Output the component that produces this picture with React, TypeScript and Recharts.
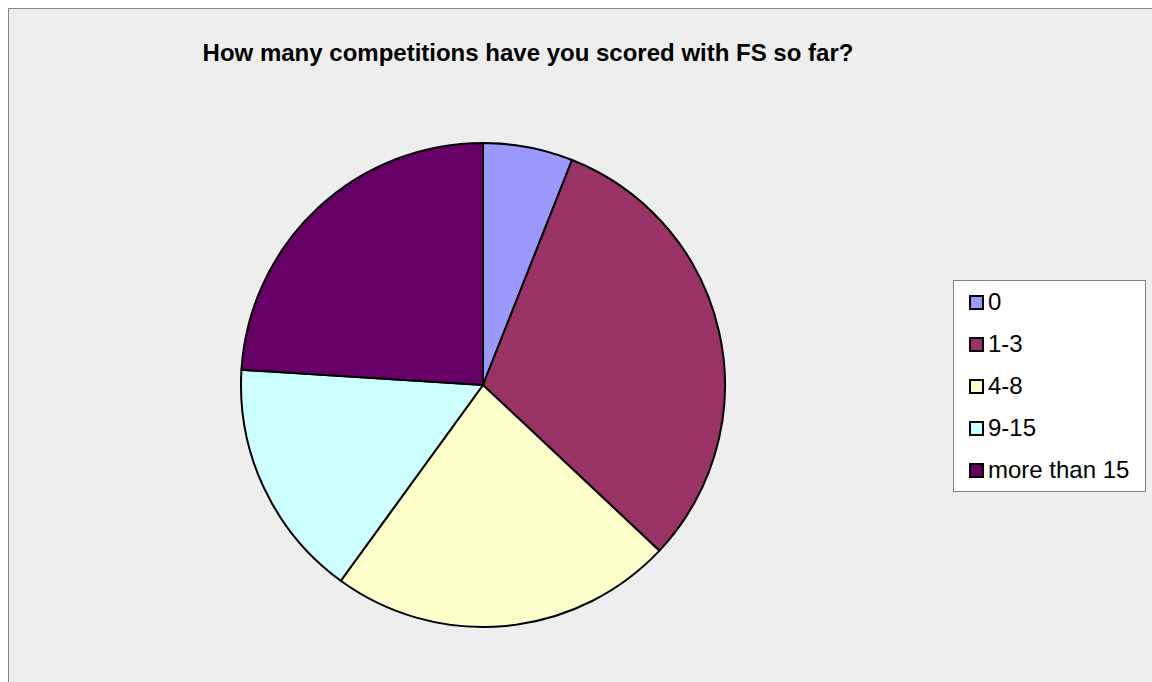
import React from 'react';
import { PieChart, Pie, Cell, Legend } from 'recharts';

const categories = ['0', '1-3', '4-8', '9-15', 'more than 15'];
const shares = [6, 31, 23, 16, 24];
const colors = ['#9999FF', '#993366', '#FFFFCC', '#CCFFFF', '#660066'];

const data = categories.map((name, i) => ({ name, value: shares[i] }));

const LegendBox = () => (
  <div
    style={{
      width: 193,
      height: 212,
      background: '#fff',
      border: '1px solid #808080',
      boxSizing: 'border-box',
      paddingTop: 0,
      fontFamily: 'Arial, "Liberation Sans", sans-serif',
      fontSize: 24,
      color: '#000',
    }}
  >
    {categories.map((name, i) => (
      <div key={name} style={{ display: 'flex', alignItems: 'center', height: 42, paddingLeft: 15 }}>
        <span
          style={{
            display: 'inline-block',
            width: 11,
            height: 11,
            background: colors[i],
            border: '2px solid #000',
            marginRight: 4,
          }}
        />
        <span style={{ lineHeight: '24px' }}>{name}</span>
      </div>
    ))}
  </div>
);

export default function App() {
  return (
    <div
      style={{
        position: 'fixed',
        left: 8,
        top: 8,
        width: 1143,
        height: 673,
        background: '#EEEEEE',
        borderLeft: '1px solid #888',
        borderTop: '1px solid #888',
        overflow: 'hidden',
      }}
    >
      <div
        style={{
          position: 'absolute',
          left: 0,
          width: 1038,
          top: 32,
          textAlign: 'center',
          fontFamily: 'Arial, "Liberation Sans", sans-serif',
          fontWeight: 'bold',
          fontSize: 24,
          lineHeight: '24px',
          color: '#000',
        }}
      >
        How many competitions have you scored with FS so far?
      </div>
      <PieChart
        width={1143}
        height={673}
        margin={{ top: 0, right: 0, bottom: 0, left: 0 }}
        style={{ position: 'absolute', left: 0, top: 0 }}
      >
        <Pie
          data={data}
          dataKey="value"
          nameKey="name"
          cx={474}
          cy={376}
          outerRadius={242}
          startAngle={90}
          endAngle={-270}
          stroke="#000"
          strokeWidth={2}
          isAnimationActive={false}
        >
          {data.map((d, i) => (
            <Cell key={d.name} fill={colors[i]} />
          ))}
        </Pie>
        <Legend
          content={<LegendBox />}
          wrapperStyle={{ position: 'absolute', left: 944, top: 271, width: 193, height: 212 }}
        />
      </PieChart>
    </div>
  );
}
